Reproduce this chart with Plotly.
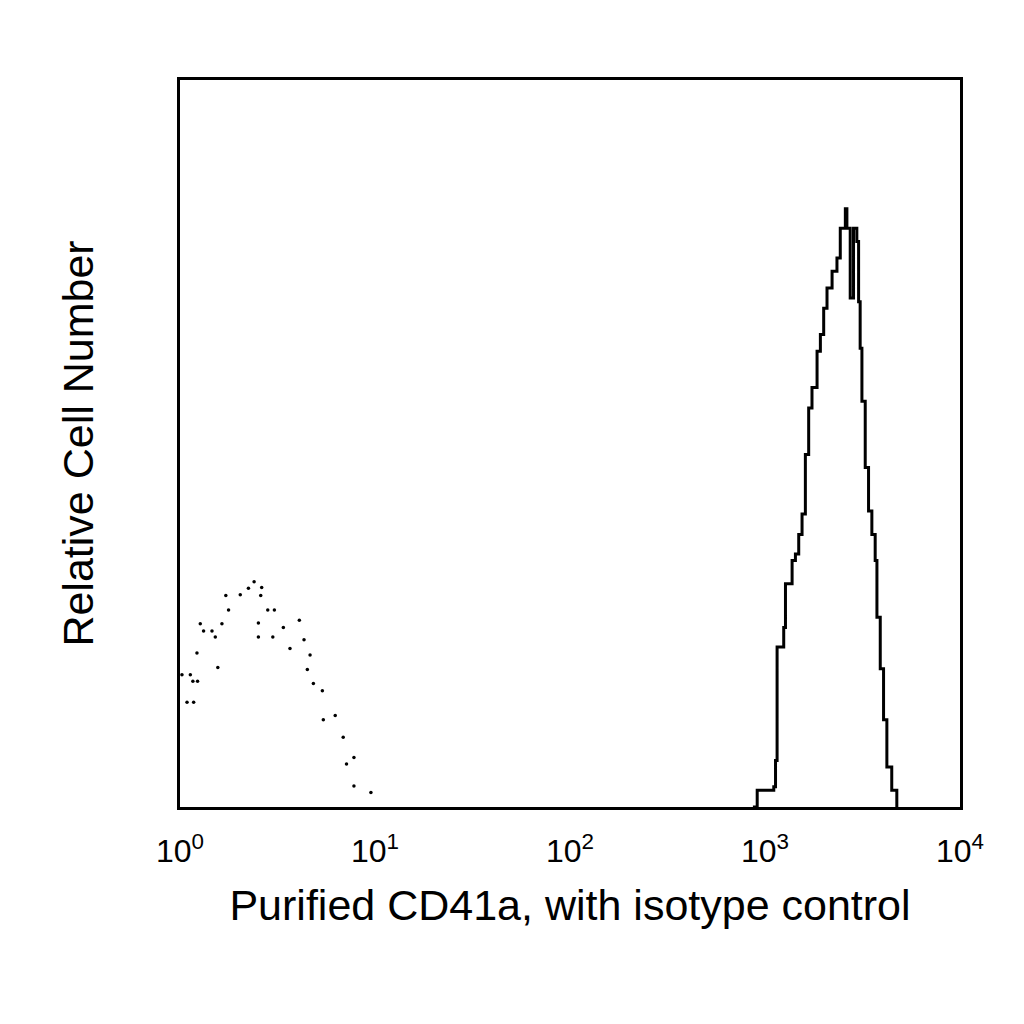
import plotly.graph_objects as go

# Isotype control (dotted), log10 fluorescence, relative count
iso_logx = [0.010,0.036,0.053,0.066,0.070,0.087,0.090,0.104,0.121,0.164,0.181,0.194,0.215,0.235,0.249,0.309,0.351,0.380,0.402,0.402,0.414,0.419,0.450,0.476,0.484,0.530,0.564,0.612,0.636,0.653,0.667,0.684,0.730,0.735,0.796,0.837,0.854,0.892,0.892,0.979]
iso_y = [18.2,14.4,18.2,17.3,14.4,21.2,17.3,25.2,24.2,24.2,23.4,19.2,25.2,29.1,27.1,29.2,30.1,31.0,25.3,23.4,29.1,30.2,27.1,23.4,27.1,24.7,21.8,25.7,23.0,18.9,20.9,17.0,16.0,12.0,12.6,9.6,5.9,6.8,2.9,2.0]

# CD41a (solid)
cd_logx = [2.938,2.960,3.045,3.054,3.062,3.096,3.105,3.130,3.139,3.156,3.173,3.190,3.207,3.224,3.241,3.267,3.284,3.301,3.318,3.344,3.369,3.386,3.412,3.420,3.437,3.454,3.454,3.471,3.480,3.488,3.497,3.514,3.531,3.548,3.565,3.574,3.591,3.608,3.625,3.650,3.676]
cd_y = [0.0,2.3,2.8,6.4,22.0,24.7,30.7,30.7,33.9,34.8,37.5,40.3,48.5,54.9,57.7,62.7,65.0,68.6,71.4,73.7,75.5,79.6,82.3,79.6,70.0,70.0,79.6,77.8,69.5,63.1,55.8,46.7,40.7,37.5,33.9,26.1,19.0,12.0,5.5,2.3,0.0]

tick_vals = [1, 10, 100, 1000, 10000]
tick_text = ["10<sup>0</sup>", "10<sup>1</sup>", "10<sup>2</sup>", "10<sup>3</sup>", "10<sup>4</sup>"]

fig = go.Figure()
fig.add_trace(go.Scatter(x=[10**v for v in iso_logx], y=iso_y, mode="markers",
                         marker=dict(color="black", size=3.5), showlegend=False))
fig.add_trace(go.Scatter(x=[10**v for v in cd_logx], y=cd_y, mode="lines",
                         line=dict(color="black", width=3, shape="hv"), showlegend=False))

fig.update_layout(
    width=1024, height=1024, paper_bgcolor="white", plot_bgcolor="white",
    margin=dict(l=172, r=72, t=72, b=225, autoexpand=False),
    font=dict(family="Liberation Sans, Arial, sans-serif", color="black"),
    xaxis=dict(type="log", range=[0, 4], tickvals=tick_vals, ticktext=tick_text,
               tickfont=dict(size=32), showgrid=False, zeroline=False,
               showline=True, linecolor="black", linewidth=3, mirror=True,
               ticks="outside", ticklen=14, tickcolor="rgba(0,0,0,0)",
               title=dict(text="Purified CD41a, with isotype control", font=dict(size=43), standoff=22)),
    yaxis=dict(range=[0, 100], showticklabels=False, showgrid=False, zeroline=False,
               showline=True, linecolor="black", linewidth=3, mirror=True, ticks="",
               title=dict(text="Relative Cell Number", font=dict(size=43), standoff=70)),
)
fig.write_html("out.html")
